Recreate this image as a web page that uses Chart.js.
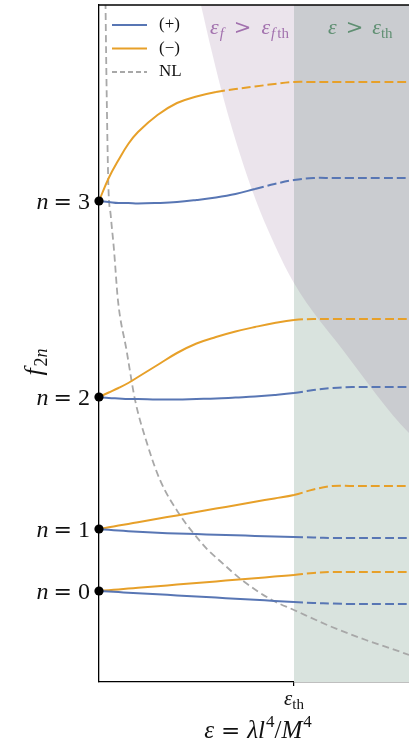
<!DOCTYPE html>
<html>
<head>
<meta charset="utf-8">
<script src="https://cdn.jsdelivr.net/npm/chart.js@4.4.1/dist/chart.umd.min.js"></script>
<style>
  html, body { margin: 0; padding: 0; background: #fff; }
  canvas { display: block; }
</style>
</head>
<body>
<canvas id="c" width="409" height="746"></canvas>
<script>
// eps in units of eps_th, f in arbitrary units
var eps = [0, 0.05, 0.1, 0.15, 0.2, 0.3, 0.4, 0.5, 0.6, 0.7, 0.8, 0.9, 1.0, 1.1, 1.2, 1.3, 1.45, 1.6];

// (+) branch, n = 0..3
var plusN0 = [0.91, 0.904, 0.899, 0.893, 0.888, 0.877, 0.866, 0.855, 0.844, 0.833, 0.822, 0.811, 0.80, 0.79, 0.785, 0.78, 0.78, 0.78];
var plusN1 = [1.53, 1.522, 1.515, 1.508, 1.502, 1.492, 1.485, 1.479, 1.473, 1.467, 1.461, 1.456, 1.45, 1.445, 1.44, 1.44, 1.44, 1.44];
var plusN2 = [2.85, 2.84, 2.835, 2.83, 2.83, 2.825, 2.825, 2.83, 2.835, 2.845, 2.855, 2.87, 2.89, 2.92, 2.94, 2.95, 2.95, 2.95];
var plusN3 = [4.81, 4.80, 4.79, 4.79, 4.785, 4.79, 4.80, 4.82, 4.845, 4.88, 4.93, 4.98, 5.02, 5.04, 5.04, 5.04, 5.04, 5.04];

// (-) branch, n = 0..3
var minusN0 = [0.91, 0.918, 0.926, 0.934, 0.942, 0.958, 0.974, 0.99, 1.006, 1.022, 1.038, 1.054, 1.07, 1.09, 1.10, 1.10, 1.10, 1.10];
var minusN1 = [1.53, 1.547, 1.564, 1.581, 1.598, 1.632, 1.666, 1.70, 1.734, 1.768, 1.802, 1.836, 1.87, 1.925, 1.96, 1.96, 1.96, 1.96];
var minusN2 = [2.85, 2.895, 2.94, 2.99, 3.05, 3.17, 3.29, 3.385, 3.45, 3.505, 3.55, 3.59, 3.62, 3.63, 3.63, 3.63, 3.63, 3.63];
var minusN3 = [4.81, 5.04, 5.22, 5.38, 5.50, 5.67, 5.79, 5.855, 5.90, 5.93, 5.955, 5.98, 6.00, 6.00, 6.00, 6.00, 6.00, 6.00];

// where each curve turns dashed
var dashFromPlus = [1.0, 1.0, 1.0, 0.8];
var dashFromMinus = [1.0, 1.0, 1.0, 0.6];

// NL curve
var nlEps = [0.032, 0.038, 0.048, 0.060, 0.077, 0.097, 0.141, 0.185, 0.241, 0.313, 0.415, 0.492, 0.559, 0.615, 0.733, 0.887, 1.0, 1.195, 1.369, 1.59, 1.65];
var nlF = [7.02, 6.07, 4.97, 4.67, 4.32, 3.82, 3.32, 2.82, 2.42, 2.02, 1.67, 1.47, 1.32, 1.22, 1.02, 0.82, 0.72, 0.55, 0.42, 0.27, 0.22];

// boundary of eps_f > eps_f,th region
var bndEps = [0.523, 0.579, 0.641, 0.713, 0.785, 0.867, 1.0, 1.251, 1.59, 1.65];
var bndF = [6.77, 6.30, 5.82, 5.34, 4.92, 4.52, 3.99, 3.32, 2.49, 2.40];

// unperturbed levels (tick positions) and their labels
var levels = [0.91, 1.53, 2.85, 4.81];
var levelNames = ['0', '1', '2', '3'];
var epsTh = 1.0;
var epsMax = 1.59;
var fMax = 6.77;

var BLUE = '#5876b4';
var ORANGE = '#e7a029';

function pts(xs, ys) { return xs.map(function (x, i) { return { x: x, y: ys[i] }; }); }

function curve(ys, color, cut) {
  return {
    type: 'line',
    data: pts(eps, ys),
    borderColor: color,
    borderWidth: 2,
    pointRadius: 0,
    tension: 0.4,
    order: 2,
    segment: {
      borderDash: function (ctx) { return ctx.p0.parsed.x >= cut - 1e-6 ? [9, 4] : undefined; }
    }
  };
}

var datasets = [];
// green region eps > eps_th
datasets.push({
  type: 'line', data: [{ x: epsTh, y: fMax }, { x: epsMax + 0.1, y: fMax }],
  borderWidth: 0, pointRadius: 0, fill: 'start', backgroundColor: 'rgb(217,227,222)', order: 10
});
// purple region
datasets.push({
  type: 'line', data: pts(bndEps, bndF),
  borderWidth: 0, pointRadius: 0, fill: 'end', cubicInterpolationMode: 'monotone',
  backgroundColor: 'rgba(122,75,128,0.15)', order: 9
});
[plusN0, plusN1, plusN2, plusN3].forEach(function (ys, i) { datasets.push(curve(ys, BLUE, dashFromPlus[i])); });
[minusN0, minusN1, minusN2, minusN3].forEach(function (ys, i) { datasets.push(curve(ys, ORANGE, dashFromMinus[i])); });
datasets.push({
  type: 'line', data: pts(nlEps, nlF), borderColor: '#a8a8a8', borderWidth: 1.8,
  borderDash: [7, 4], pointRadius: 0, cubicInterpolationMode: 'monotone', order: 3
});
datasets.push({
  type: 'scatter', data: levels.map(function (v) { return { x: 0, y: v }; }),
  pointRadius: 4.6, backgroundColor: '#000', borderWidth: 0, clip: false, order: 0
});

// text with mixed italic / upright / sub parts
function fontOf(p) {
  if (p.f === 'i') return 'italic ' + p.s + 'px "Liberation Serif"';
  if (p.f === 'm') return p.s + 'px "DejaVu Serif"';
  return p.s + 'px "Liberation Serif"';
}
function drawRich(ctx, parts, x, y, align) {
  var w = 0;
  parts.forEach(function (p) { ctx.font = fontOf(p); p.w = ctx.measureText(p.t).width; w += p.w + (p.gap || 0); });
  var cx = align === 'right' ? x - w : (align === 'center' ? x - w / 2 : x);
  parts.forEach(function (p) {
    ctx.font = fontOf(p);
    ctx.fillText(p.t, cx, y + (p.dy || 0));
    cx += p.w + (p.gap || 0);
  });
}

var deco = {
  id: 'deco',
  afterDraw: function (chart) {
    var ctx = chart.ctx, a = chart.chartArea;
    var xs = chart.scales.x, ys = chart.scales.y;
    ctx.save();
    // top spine
    ctx.strokeStyle = '#000';
    ctx.lineWidth = 1.3;
    ctx.beginPath();
    ctx.moveTo(a.left, a.top);
    ctx.lineTo(a.right, a.top);
    ctx.stroke();

    ctx.textBaseline = 'alphabetic';
    // region labels
    ctx.fillStyle = '#a271ae';
    drawRich(ctx, [
      { t: 'ε', f: 'i', s: 22, gap: 1 }, { t: 'f', f: 'i', s: 15, dy: 4, gap: 10 },
      { t: '>', f: 'm', s: 21, gap: 10 },
      { t: 'ε', f: 'i', s: 22, gap: 1 }, { t: 'f', f: 'i', s: 15, dy: 4, gap: 2 }, { t: 'th', f: 'r', s: 15, dy: 4 }
    ], 210, 34, 'left');
    ctx.fillStyle = '#5f8f72';
    drawRich(ctx, [
      { t: 'ε', f: 'i', s: 22, gap: 9 },
      { t: '>', f: 'm', s: 21, gap: 9 },
      { t: 'ε', f: 'i', s: 22 }, { t: 'th', f: 'r', s: 15, dy: 4 }
    ], 328, 34, 'left');

    // legend
    var leg = [
      { label: '(+)', color: BLUE, dash: [] },
      { label: '(−)', color: ORANGE, dash: [] },
      { label: 'NL', color: '#a8a8a8', dash: [5, 3] }
    ];
    leg.forEach(function (it, i) {
      var y = 25 + i * 23.5;
      ctx.strokeStyle = it.color;
      ctx.lineWidth = 2;
      ctx.setLineDash(it.dash);
      ctx.beginPath();
      ctx.moveTo(112, y);
      ctx.lineTo(147, y);
      ctx.stroke();
      ctx.setLineDash([]);
      ctx.fillStyle = '#111';
      ctx.font = '17px "Liberation Serif"';
      ctx.textBaseline = 'middle';
      ctx.fillText(it.label, 159, y);
    });
    ctx.textBaseline = 'alphabetic';
    ctx.fillStyle = '#111';

    // y tick labels
    levels.forEach(function (v, i) {
      var py = ys.getPixelForValue(v);
      drawRich(ctx, [
        { t: 'n', f: 'i', s: 24, gap: 5 },
        { t: '=', f: 'm', s: 22, gap: 6 },
        { t: levelNames[i], f: 'r', s: 24 }
      ], 90, py + 8, 'right');
    });

    // x tick label
    var px = xs.getPixelForValue(epsTh);
    drawRich(ctx, [{ t: 'ε', f: 'i', s: 21 }, { t: 'th', f: 'r', s: 15, dy: 4 }], px, 705, 'center');

    // x title
    drawRich(ctx, [
      { t: 'ε', f: 'i', s: 25, gap: 7 },
      { t: '=', f: 'm', s: 23, gap: 7 },
      { t: 'λ', f: 'i', s: 25 }, { t: 'l', f: 'i', s: 25, gap: 1 }, { t: '4', f: 'r', s: 17, dy: -11 },
      { t: '/', f: 'r', s: 25 }, { t: 'M', f: 'i', s: 25, gap: 1 }, { t: '4', f: 'r', s: 17, dy: -11 }
    ], 258, 738, 'center');

    // y title
    ctx.translate(42, 362);
    ctx.rotate(-Math.PI / 2);
    drawRich(ctx, [{ t: 'f', f: 'i', s: 26, gap: 2 }, { t: '2', f: 'r', s: 18, dy: 5 }, { t: 'n', f: 'i', s: 18, dy: 5 }], 0, 0, 'center');
    ctx.restore();
  }
};

new Chart(document.getElementById('c'), {
  type: 'line',
  data: { datasets: datasets },
  options: {
    responsive: false,
    animation: false,
    events: [],
    layout: { autoPadding: false, padding: { top: 5, left: 0, right: 0, bottom: 0 } },
    plugins: { legend: { display: false }, tooltip: { enabled: false } },
    scales: {
      x: {
        type: 'linear', min: 0, max: epsMax,
        grid: { drawOnChartArea: false, color: '#000', tickLength: 4, lineWidth: 1.2 },
        border: { display: true, color: '#000', width: 1.3 },
        ticks: { display: false },
        afterBuildTicks: function (s) { s.ticks = [{ value: epsTh }]; },
        afterFit: function (s) { s.height = 64; s.paddingLeft = 0; s.paddingRight = 0; }
      },
      y: {
        type: 'linear', min: 0, max: fMax,
        grid: { drawOnChartArea: false, color: '#000', tickLength: 4, lineWidth: 1.2 },
        border: { display: true, color: '#000', width: 1.3 },
        ticks: { display: false },
        afterBuildTicks: function (s) { s.ticks = levels.map(function (v) { return { value: v }; }); },
        afterFit: function (s) { s.width = 99; s.paddingTop = 0; s.paddingBottom = 0; }
      }
    }
  },
  plugins: [deco]
});
</script>
</body>
</html>
